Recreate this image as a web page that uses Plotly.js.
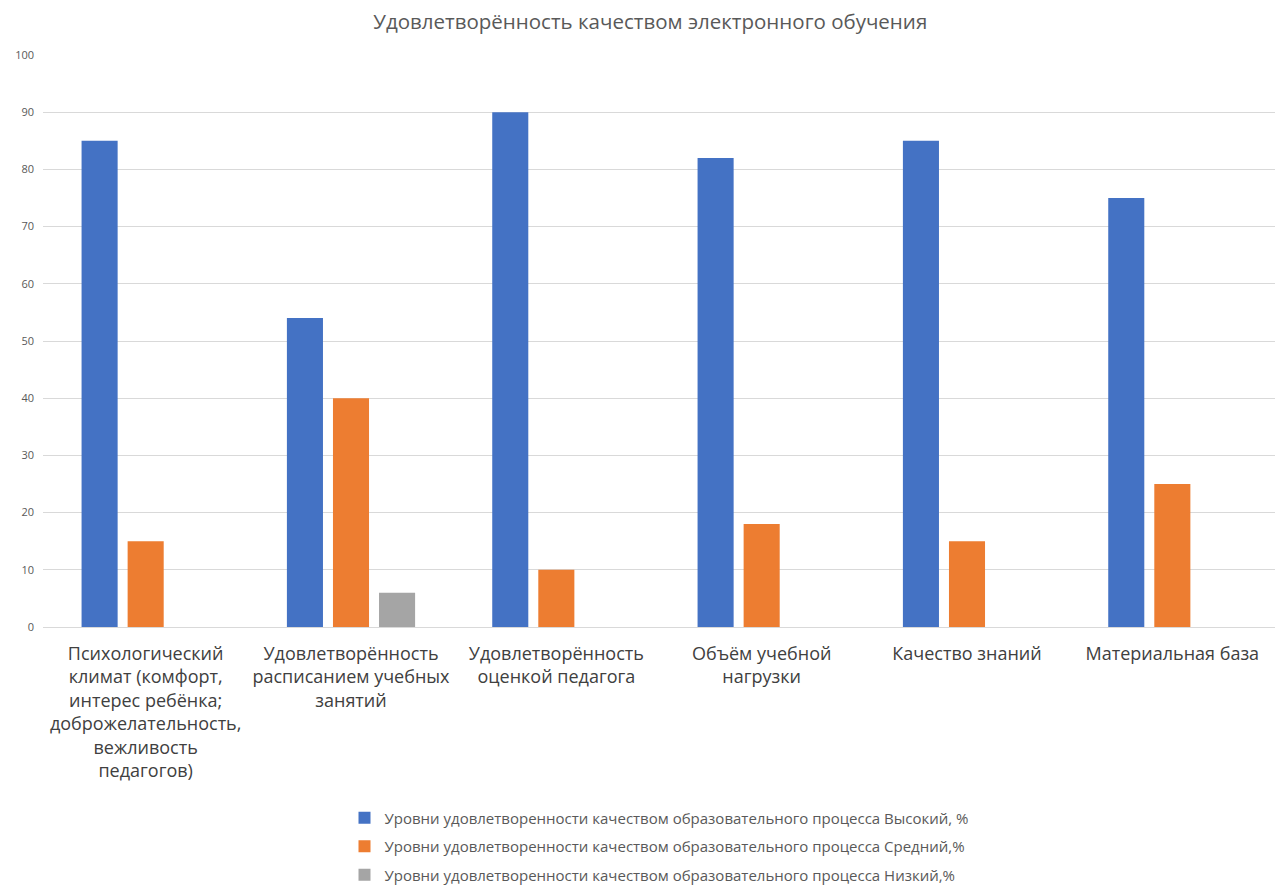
<!DOCTYPE html>
<html>
<head>
<meta charset="utf-8">
<script src="https://cdn.plot.ly/plotly-3.0.1.min.js"></script>
<style>html,body{margin:0;padding:0;background:#fff;}#chart{width:1275px;height:890px;}</style>
</head>
<body>
<div id="chart"></div>
<script>
const categories = [
  "Психологический<br>климат (комфорт,<br>интерес ребёнка;<br>доброжелательность,<br>вежливость<br>педагогов)",
  "Удовлетворённость<br>расписанием учебных<br>занятий",
  "Удовлетворённость<br>оценкой педагога",
  "Объём учебной<br>нагрузки",
  "Качество знаний",
  "Материальная база"
];
const seriesNames = [
  "Уровни удовлетворенности качеством образовательного процесса Высокий, %",
  "Уровни удовлетворенности качеством образовательного процесса Средний,%",
  "Уровни удовлетворенности качеством образовательного процесса Низкий,%"
];
const highValues = [85, 54, 90, 82, 85, 75];
const midValues = [15, 40, 10, 18, 15, 25];
const lowValues = [null, 6, null, null, null, null];
const colors = ["#4472C4", "#ED7D31", "#A5A5A5"];
const yTicks = [0, 10, 20, 30, 40, 50, 60, 70, 80, 90, 100];

const FONT = "Open Sans, Noto Sans, sans-serif";
const allValues = [highValues, midValues, lowValues];
const traces = allValues.map((vals, i) => ({
  type: "bar",
  x: categories,
  y: vals,
  name: seriesNames[i],
  legendgroup: "g" + i,
  marker: {color: colors[i], line: {width: 0}},
  hoverinfo: "skip"
}));

const layout = {
  width: 1275,
  height: 890,
  paper_bgcolor: "#ffffff",
  plot_bgcolor: "#ffffff",
  margin: {l: 43, r: 0, t: 55, b: 263, autoexpand: false},
  title: {
    text: "Удовлетворённость качеством электронного обучения",
    font: {family: FONT, size: 20.5, color: "#595959"},
    x: 0.51, xanchor: "center", y: 0.975, yanchor: "middle"
  },
  barmode: "group",
  bargap: 0.327,
  bargroupgap: 0.217,
  showlegend: true,
  legend: {
    orientation: "v",
    x: 0.5, xanchor: "center",
    y: -0.305, yanchor: "top",
    font: {family: FONT, size: 15, color: "#595959"},
    tracegroupgap: 6,
    itemwidth: 30,
    bgcolor: "rgba(0,0,0,0)"
  },
  xaxis: {
    type: "category",
    tickfont: {family: FONT, size: 18, color: "#404040"},
    tickangle: 0,
    showgrid: false,
    showline: false,
    ticks: "",
    automargin: false,
    ticklabelstandoff: 14,
    fixedrange: true
  },
  yaxis: {
    range: [0, 100],
    tickvals: yTicks,
    ticktext: yTicks.map(String),
    tickfont: {family: FONT, size: 11, color: "#595959"},
    showgrid: true,
    gridcolor: "#d9d9d9",
    gridwidth: 1,
    zeroline: true,
    zerolinecolor: "#d9d9d9",
    zerolinewidth: 1,
    showline: false,
    ticks: "",
    automargin: false,
    ticklabelstandoff: 8,
    fixedrange: true
  }
};

Plotly.newPlot("chart", traces, layout, {displayModeBar: false, staticPlot: true});
</script>
</body>
</html>
